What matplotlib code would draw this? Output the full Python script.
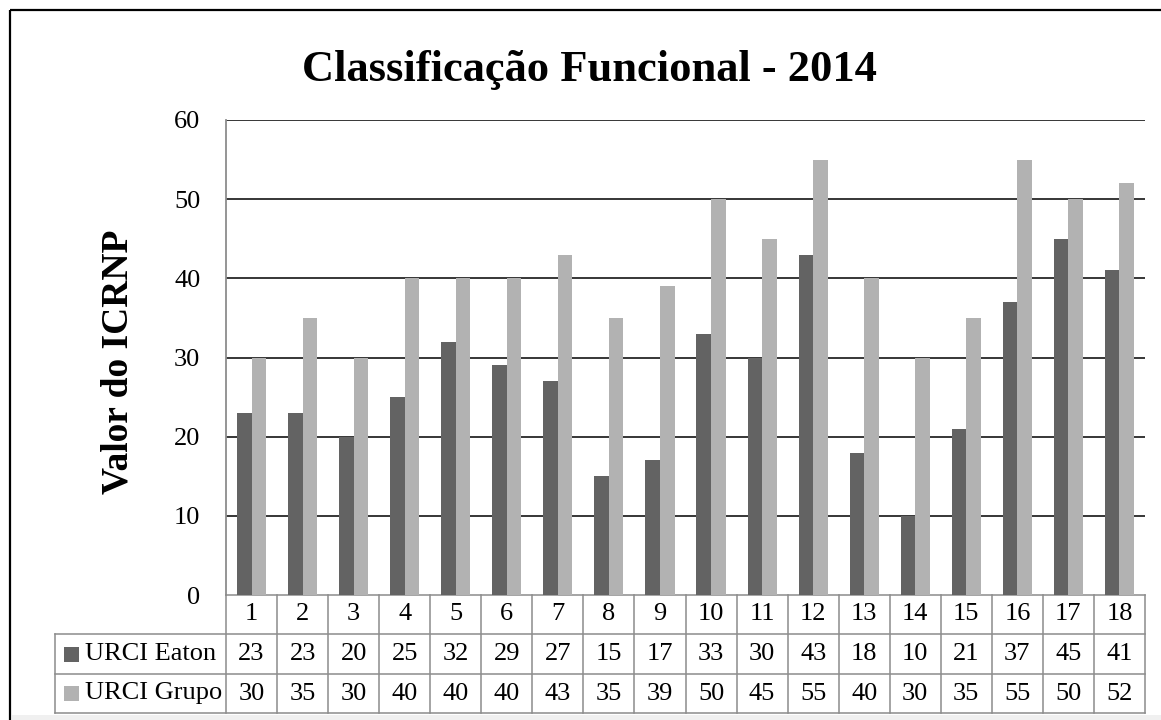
import numpy as np
import matplotlib.pyplot as plt

#################### Data

categorias = [str(i) for i in range(1, 19)]
urci_eaton = [23, 23, 20, 25, 32, 29, 27, 15, 17, 33, 30, 43, 18, 10, 21, 37, 45, 41]
urci_grupo = [30, 35, 30, 40, 40, 40, 43, 35, 39, 50, 45, 55, 40, 30, 35, 55, 50, 52]
series_nomes = ['URCI Eaton', 'URCI Grupo']
y_ticks = [0, 10, 20, 30, 40, 50, 60]

titulo = 'Classificação Funcional - 2014'
y_label = 'Valor do ICRNP'

#################### Plot parameters

cor_escura = '#636363'
cor_clara = '#b2b2b2'
cor_borda = '#8c8c8c'
fonte = 'Liberation Serif'
tamano = 19

W, H = 1161, 720
plt.rcParams['font.family'] = fonte

# pixel layout (from the top-left corner)
px_left, px_right = 226, 1145
px_top, px_bottom = 120, 595
row_y = [595, 634, 674, 713]
hdr_left = 55

fig = plt.figure(figsize=(W / 100, H / 100), dpi=100)
fig.patch.set_facecolor('white')

### background axes in pixel coords for frame and table
bg = fig.add_axes((0, 0, 1, 1))
bg.set_xlim(0, W)
bg.set_ylim(H, 0)
bg.axis('off')

# outer frame (left and top visible) and bottom shadow
bg.plot([10, 10], [10, H], color='black', lw=1.6, solid_capstyle='butt')
bg.plot([10, W], [10, 10], color='black', lw=1.6, solid_capstyle='butt')
bg.fill_between([12, W], 715, H, color='#f0f0f0', lw=0)

### main axes
ax = fig.add_axes((px_left / W, 1 - px_bottom / H,
                   (px_right - px_left) / W, (px_bottom - px_top) / H))
ax.patch.set_alpha(0)

x = np.arange(len(categorias))
bw = 0.285
ax.bar(x - bw / 2, urci_eaton, width=bw, color=cor_escura, zorder=3)
ax.bar(x + bw / 2, urci_grupo, width=bw, color=cor_clara, zorder=3)

ax.set_xlim(-0.5, len(categorias) - 0.5)
ax.set_ylim(0, 60)
ax.set_yticks(y_ticks)
ax.set_xticks([])
ax.tick_params(axis='y', length=0, pad=18.5, labelsize=tamano)
for t in y_ticks[1:]:
    ax.axhline(t, color='black', lw=1.1, zorder=1)

for s in ['top', 'right', 'bottom']:
    ax.spines[s].set_visible(False)
ax.spines['left'].set_color(cor_borda)
ax.spines['left'].set_linewidth(1.3)

fig.text(118 / W, 1 - 362 / H, y_label, rotation=90, ha='center', va='center',
         fontsize=27, fontweight='bold')

fig.text(589 / W, 1 - 70 / H, titulo, ha='center', va='center',
         fontsize=32, fontweight='bold')

### data table
cw = (px_right - px_left) / len(categorias)
lw_t = 1.1
# horizontal lines
bg.plot([px_left, px_right], [row_y[0]] * 2, color=cor_borda, lw=lw_t)
for yy in row_y[1:]:
    bg.plot([hdr_left, px_right], [yy] * 2, color=cor_borda, lw=lw_t)
# vertical lines
for i in range(len(categorias) + 1):
    xx = px_left + i * cw
    bg.plot([xx, xx], [row_y[0], row_y[3]], color=cor_borda, lw=lw_t)
bg.plot([hdr_left, hdr_left], [row_y[1], row_y[3]], color=cor_borda, lw=lw_t)

# texts
for i, c in enumerate(categorias):
    xc = px_left + (i + 0.5) * cw
    bg.text(xc, (row_y[0] + row_y[1]) / 2, c, ha='center', va='center', fontsize=tamano)
    bg.text(xc, (row_y[1] + row_y[2]) / 2, str(urci_eaton[i]), ha='center', va='center', fontsize=tamano)
    bg.text(xc, (row_y[2] + row_y[3]) / 2, str(urci_grupo[i]), ha='center', va='center', fontsize=tamano)

for k, (nome, cor) in enumerate(zip(series_nomes, [cor_escura, cor_clara])):
    yc = (row_y[k + 1] + row_y[k + 2]) / 2
    bg.add_patch(plt.Rectangle((64, yc - 7.5), 15, 15, color=cor, lw=0))
    bg.text(85, yc, nome, ha='left', va='center', fontsize=tamano)

plt.savefig('out.png', dpi=100)
